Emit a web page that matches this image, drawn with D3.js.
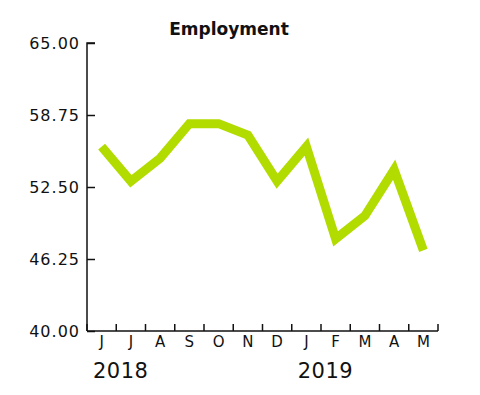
<!DOCTYPE html>
<html><head><meta charset="utf-8">
<script src="https://cdn.jsdelivr.net/npm/d3@7/dist/d3.min.js"></script>
<style>body{margin:0;background:#fff}text{font-family:"DejaVu Sans",sans-serif;fill:#111}</style>
</head><body>
<svg id="c" width="480" height="395"></svg>
<script>
const months = ["J","J","A","S","O","N","D","J","F","M","A","M"];
const values = [56, 53, 55, 58, 58, 57, 53, 56, 48, 50, 54, 47];
const yTicks = [40, 46.25, 52.5, 58.75, 65];
const years = [{label:"2018", index:0},{label:"2019", index:7}];
const title = "Employment";

const svg = d3.select("#c");
const m = {left:87, right:438, top:43, bottom:331};
const idx = months.map((d,i)=>i);
const x = d3.scaleBand().domain(idx).range([m.left, m.right]);
const y = d3.scaleLinear().domain([40,65]).range([m.bottom, m.top]);

// y axis
const ya = svg.append("g").attr("transform",`translate(${m.left},0)`)
  .call(d3.axisRight(y).tickValues(yTicks).tickSize(8).tickFormat(d3.format(".2f")));
ya.select(".domain").attr("stroke","#111").attr("stroke-width",1.5).attr("d",`M8,${m.top}H0V${m.bottom}`);
ya.selectAll(".tick line").attr("stroke","#111").attr("stroke-width",1.5);
ya.selectAll(".tick text").attr("x",-7).attr("text-anchor","end").attr("dy","0.35em")
  .style("font-size","16px").style("letter-spacing","1px").attr("fill","#111");

// x axis: ticks at band edges
const xa = svg.append("g").attr("transform",`translate(0,${m.bottom})`);
xa.append("line").attr("x1",m.left).attr("x2",m.right).attr("stroke","#111").attr("stroke-width",1.5);
const edges = idx.map(i=>x(i)).concat([m.right]);
xa.selectAll("line.t").data(edges).join("line").attr("class","t")
  .attr("x1",d=>d).attr("x2",d=>d).attr("y1",0).attr("y2",-7).attr("stroke","#111").attr("stroke-width",1.5);
xa.selectAll("text.m").data(months).join("text").attr("class","m")
  .attr("x",(d,i)=>x(i)+x.bandwidth()/2).attr("y",16).attr("text-anchor","middle")
  .style("font-size","15px").text(d=>d);
xa.selectAll("text.yr").data(years).join("text").attr("class","yr")
  .attr("x",d=>x(d.index)+6).attr("y",47).style("font-size","21px").style("letter-spacing","0.5px").text(d=>d.label);

// line
const line = d3.line().x((d,i)=>x(i)+x.bandwidth()/2).y(d=>y(d));
svg.append("path").datum(values).attr("d",line).attr("fill","none")
  .attr("stroke","#b2dc00").attr("stroke-width",9).attr("stroke-linejoin","miter");

// title
svg.append("text").attr("x",229).attr("y",35).attr("text-anchor","middle")
  .style("font-size","17px").style("font-weight","bold").text(title);
</script>
</body></html>
